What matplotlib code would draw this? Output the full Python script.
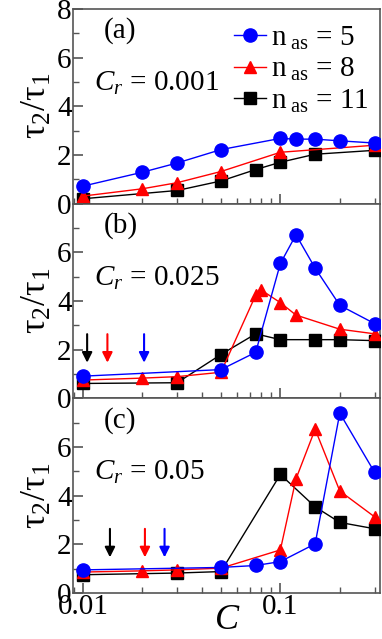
import numpy as np
import matplotlib
matplotlib.use("Agg")
import matplotlib.pyplot as plt
from matplotlib.ticker import LogLocator, NullFormatter, FixedLocator

plt.rcParams['font.family'] = ['Liberation Serif', 'DejaVu Serif']
plt.rcParams['mathtext.fontset'] = 'custom'
plt.rcParams['mathtext.rm'] = 'Liberation Serif'
plt.rcParams['mathtext.it'] = 'Liberation Serif:italic'

# panel (a) Cr = 0.001
a_c5 = [0.01, 0.02, 0.03, 0.05, 0.1, 0.12, 0.15, 0.2, 0.3]
a_v5 = [0.72, 1.29, 1.67, 2.22, 2.68, 2.65, 2.65, 2.58, 2.49]
a_c8 = [0.01, 0.02, 0.03, 0.05, 0.1, 0.3]
a_v8 = [0.31, 0.61, 0.86, 1.32, 2.11, 2.40]
a_c11 = [0.01, 0.03, 0.05, 0.075, 0.1, 0.15, 0.3]
a_v11 = [0.20, 0.54, 0.93, 1.40, 1.70, 2.03, 2.19]

# panel (b) Cr = 0.025
b_c5 = [0.01, 0.05, 0.075, 0.1, 0.12, 0.15, 0.2, 0.3]
b_v5 = [0.91, 1.18, 1.89, 5.54, 6.72, 5.35, 3.82, 3.07]
b_c8 = [0.01, 0.02, 0.03, 0.05, 0.075, 0.08, 0.1, 0.12, 0.2, 0.3]
b_v8 = [0.75, 0.83, 0.89, 1.07, 4.24, 4.45, 3.93, 3.42, 2.84, 2.65]
b_c11 = [0.01, 0.03, 0.05, 0.075, 0.1, 0.15, 0.2, 0.3]
b_v11 = [0.61, 0.64, 1.80, 2.65, 2.41, 2.41, 2.41, 2.37]

# panel (c) Cr = 0.05
c_c5 = [0.01, 0.05, 0.075, 0.1, 0.15, 0.2, 0.3]
c_v5 = [0.95, 1.05, 1.13, 1.29, 2.02, 7.39, 4.96]
c_c8 = [0.01, 0.02, 0.03, 0.05, 0.1, 0.12, 0.15, 0.2, 0.3]
c_v8 = [0.86, 0.91, 0.95, 1.02, 1.77, 4.69, 6.73, 4.19, 3.13]
c_c11 = [0.01, 0.03, 0.05, 0.1, 0.15, 0.2, 0.3]
c_v11 = [0.75, 0.82, 0.88, 4.87, 3.54, 2.90, 2.64]

# arrow positions (C) for n_as = 11, 8, 5
b_arrows = [0.0105, 0.0133, 0.0204]
c_arrows = [0.0137, 0.0206, 0.0259]

panels = [
    ("(a)", "0.001", (a_c5, a_v5), (a_c8, a_v8), (a_c11, a_v11), None),
    ("(b)", "0.025", (b_c5, b_v5), (b_c8, b_v8), (b_c11, b_v11), b_arrows),
    ("(c)", "0.05", (c_c5, c_v5), (c_c8, c_v8), (c_c11, c_v11), c_arrows),
]

fig = plt.figure(figsize=(3.82, 6.39), dpi=100)
left, right, bottom, top = 0.191, 0.995, 0.072, 0.986
h = (top - bottom) / 3
fs = 21
spine_col = '#555555'

for i, (lab, cr, s5, s8, s11, arrows) in enumerate(panels):
    ax = fig.add_axes([left, top - (i + 1) * h, right - left, h])
    ax.plot(s11[0], s11[1], '-s', color='black', ms=8, lw=1, label=r'n$_{\rm\ as}$ = 11', zorder=3)
    ax.plot(s8[0], s8[1], '-^', color='red', ms=9, lw=1, label=r'n$_{\rm\ as}$ = 8', zorder=4)
    ax.plot(s5[0], s5[1], '-o', color='blue', ms=9.5, lw=1, label=r'n$_{\rm\ as}$ = 5', zorder=5)
    ax.set_xscale('log')
    ax.set_xlim(0.0089, 0.32)
    ax.set_ylim(0, 8)
    ax.yaxis.set_major_locator(FixedLocator([0, 2, 4, 6, 8]))
    ax.yaxis.set_minor_locator(FixedLocator([1, 3, 5, 7]))
    if i == 0:
        ax.set_yticklabels(['0', '2', '4', '6', '8'])
    else:
        ax.set_yticklabels(['0', '2', '4', '6', ''])
    ax.xaxis.set_major_locator(FixedLocator([0.01, 0.1]))
    ax.xaxis.set_minor_locator(LogLocator(base=10, subs=np.arange(2, 10), numticks=10))
    ax.xaxis.set_minor_formatter(NullFormatter())
    if i == 2:
        ax.set_xticklabels(['0.01', '0.1'])
    else:
        ax.set_xticklabels(['', ''])
    ax.tick_params(which='both', direction='in', top=False, right=False,
                   labelsize=fs, color=spine_col, pad=1)
    ax.tick_params(which='major', length=7, width=1.2)
    ax.tick_params(which='minor', length=4, width=1)
    for sp in ax.spines.values():
        sp.set_color(spine_col)
        sp.set_linewidth(1.2)
    ax.set_ylabel('τ$_2$/τ$_1$', fontsize=26, labelpad=2)
    ax.text(0.1, 0.85, lab, transform=ax.transAxes, fontsize=fs)
    ax.text(0.07, 0.58, r'$C_r$ = ' + cr, transform=ax.transAxes, fontsize=fs)
    if i == 0:
        hnd, lbl = ax.get_legend_handles_labels()
        ax.legend(hnd[::-1], lbl[::-1], loc='upper right', frameon=False, fontsize=fs,
                  handlelength=1.1, handletextpad=0.15, labelspacing=0.15,
                  borderaxespad=0.0, bbox_to_anchor=(1.0, 0.98))
    if arrows is not None:
        for xa, col in zip(arrows, ['black', 'red', 'blue']):
            ax.annotate('', xy=(xa, 1.35), xytext=(xa, 2.75),
                        arrowprops=dict(arrowstyle='-|>,head_length=0.6,head_width=0.3',
                                        color=col, lw=1.5))

fig.text(0.594, 0.003, r'$C$', fontsize=26, ha='center', va='bottom')
fig.savefig('out.png', dpi=100)
